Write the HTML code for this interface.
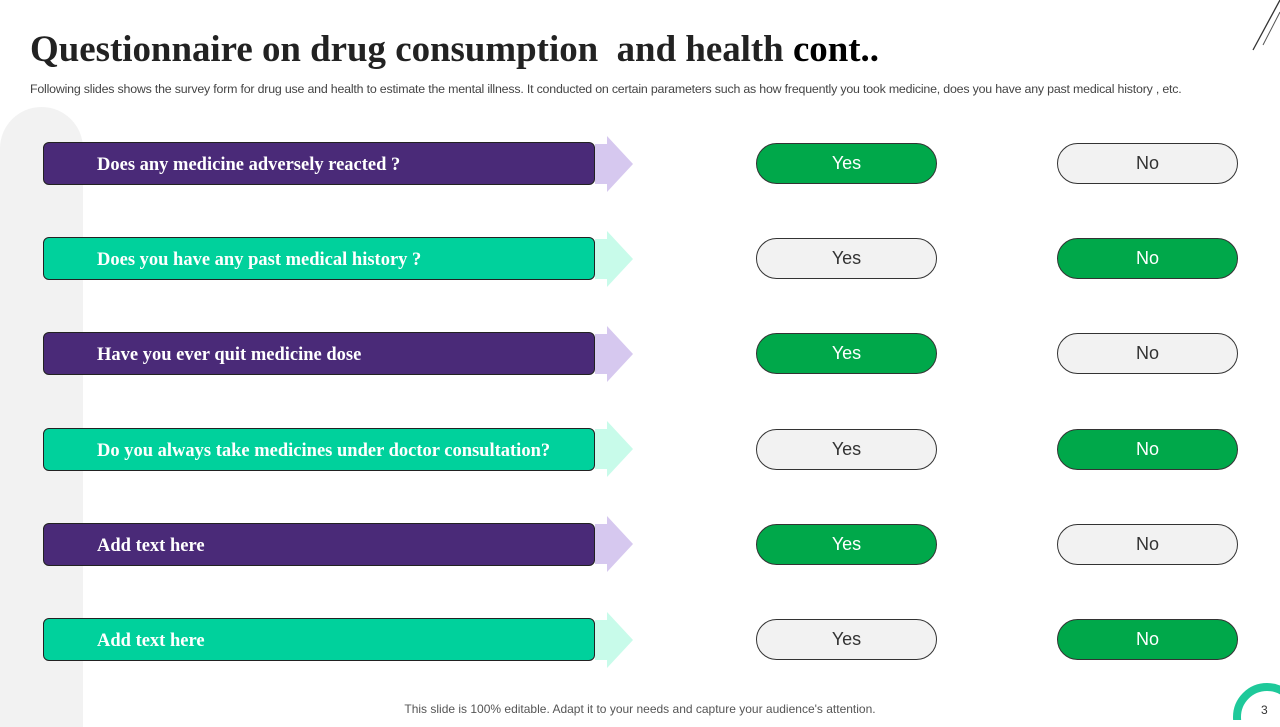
<!DOCTYPE html>
<html><head><meta charset="utf-8"><style>
body{margin:0;width:1280px;height:720px;overflow:hidden;background:#fff;position:relative;font-family:"Liberation Sans",sans-serif}
.abs{position:absolute}
.bar{position:absolute;left:43px;width:552px;height:43px;border:1px solid #222;border-radius:6px;box-sizing:border-box;color:#fff;font-family:"Liberation Serif",serif;font-weight:bold;font-size:18.5px;line-height:44px;padding-left:53px;white-space:nowrap}
.pill{position:absolute;width:181px;height:41px;border:1px solid #333;border-radius:21px;box-sizing:border-box;text-align:center;line-height:39px;font-size:18px}
</style></head><body>
<div class="abs" style="left:0;top:107px;width:83px;height:620px;background:#f2f2f2;border-radius:42px 42px 0 0"></div>
<div class="abs" style="left:30px;top:27px;font-family:'Liberation Serif',serif;font-weight:bold;font-size:36.9px;color:#222;white-space:nowrap">Questionnaire on drug consumption &nbsp;and health <span style="color:#000">cont..</span></div>
<div class="abs" style="left:30px;top:82px;font-size:12.4px;color:#444;letter-spacing:-0.2px;white-space:nowrap">Following slides shows the survey form for drug use and health to estimate the mental illness. It conducted on certain parameters such as how frequently you took medicine, does you have any past medical history , etc.</div>
<svg class="abs" style="left:1240px;top:0" width="40" height="60"><line x1="13" y1="50" x2="40" y2="0" stroke="#333" stroke-width="1.3"/><line x1="23" y1="45" x2="40" y2="12" stroke="#555" stroke-width="1"/></svg>
<svg class="abs" style="left:1225px;top:675px" width="55" height="45"><circle cx="42" cy="42" r="30" fill="none" stroke="#1ec99a" stroke-width="8"/></svg>
<div class="abs" style="left:1261px;top:703px;font-size:12px;color:#333">3</div>
<div class="abs" style="left:0;width:1280px;top:702px;text-align:center;font-size:12px;color:#555">This slide is 100% editable. Adapt it to your needs and capture your audience's attention.</div>
<div id="rows"></div>
<script>
const questions=["Does any medicine adversely reacted ?","Does you have any past medical history ?","Have you ever quit medicine dose","Do  you always take medicines under doctor consultation?","Add text here","Add text here"];
const answers=["Yes","No","Yes","No","Yes","No"];
const root=document.getElementById('rows');
questions.forEach((q,i)=>{
  const cy=163.5+i*95.2;
  const purple=i%2===0;
  const b=document.createElement('div');
  b.className='bar';
  
  
  b.style.top=(cy-21.5)+'px';
  b.style.background=purple?'#4a2a78':'#00d19c';
  b.textContent=q;root.appendChild(b);
  const s=document.createElementNS('http://www.w3.org/2000/svg','svg');
  
  
  s.setAttribute('width','45');s.setAttribute('height','56');
  s.setAttribute('class','abs');s.style.left='595px';s.style.top=(cy-28)+'px';
  s.innerHTML='<polygon points="0,8 12,8 12,0 38,28 12,56 12,48 0,48" fill="'+(purple?'#d6c8ef':'#c8fbea')+'"/>';
  root.appendChild(s);
  [['Yes',756],['No',1057]].forEach(([lbl,x])=>{
    const p=document.createElement('div');
    p.className='pill';
    
    
    const sel=answers[i]===lbl;
    p.style.left=x+'px';p.style.top=(cy-20.5)+'px';
    p.style.background=sel?'#00a84a':'#f2f2f2';p.style.color=sel?'#fff':'#333';
    p.textContent=lbl;root.appendChild(p);
  });
});
</script>
</body></html>
